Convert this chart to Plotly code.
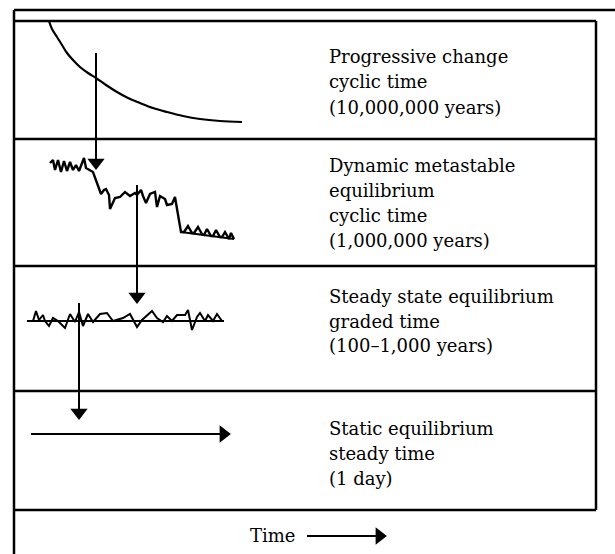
import plotly.graph_objects as go

# ---------------- data (diagram units = pixels of the 615x554 canvas) -------------
# frame
frame_top_y = 10
frame_left_x = 14
box_top_y = 21
box_right_x = 596
row_sep_y = [139, 266, 391, 510]
canvas_w, canvas_h = 615, 554

# row 1: progressive change (decay curve)
decay_x = [49, 52, 57, 62, 67, 73, 80, 88, 96, 106, 117, 128, 140, 153, 167, 183, 200, 220, 242]
decay_y = [21, 29, 37, 45, 53, 60, 67, 73, 78, 85, 92, 98, 103, 108, 112, 116, 119, 121, 122]

# row 2: dynamic metastable equilibrium
meta_x = [50, 53, 55, 58, 61, 64, 67, 70, 73, 76, 79, 82, 84, 86, 93,
          101, 104, 106, 109, 110, 115, 120, 125, 130, 135, 137, 141, 143, 146, 150,
          155, 157, 160, 165, 167, 172, 175, 176,
          181, 184, 188, 192, 194, 198, 202, 204, 207, 211, 213, 216, 220, 222, 225, 229, 231, 234]
meta_y = [163, 160, 170, 160, 172, 161, 171, 162, 170, 165, 171, 163, 158, 168, 172,
          194, 190, 189, 195, 209, 198, 197, 192, 196, 193, 195, 190, 196, 203, 194,
          192, 207, 196, 199, 205, 204, 197, 203,
          232, 232, 226, 233, 233, 227, 234, 235, 229, 236, 236, 230, 237, 237, 232, 239, 233, 239]
meta_base_x = [181, 234]
meta_base_y = [232, 239]

# row 3: steady state equilibrium
steady_x = [27, 33, 36, 39, 43, 45, 49, 53, 58, 65, 70, 75, 79, 83, 88, 93, 100, 107, 113,
            123, 130, 137, 142, 152, 157, 163, 167, 172, 177, 185, 188, 192, 197, 200, 205,
            208, 213, 217, 222, 224]
steady_y = [321, 321, 311, 320, 315, 321, 326, 318, 321, 328, 314, 322, 312, 326, 314, 322, 314, 313, 321,
            318, 314, 327, 320, 311, 318, 322, 316, 321, 315, 315, 310, 330, 317, 313, 321,
            315, 321, 314, 321, 321]
steady_base_x = [27, 224]
steady_base_y = [321, 321]

# row 4: static equilibrium
static_x = [31, 229]
static_y = [434, 434]

# transfer arrows between rows (tail -> tip)
down_arrow_x = [96, 137, 79]
down_arrow_tail_y = [53, 185, 303]
down_arrow_tip_y = [168, 302, 418]

# time arrow
time_arrow_x = [307, 385]
time_arrow_y = [536, 536]

# labels
label_x = 327
row_labels = [
    ["Progressive change", "cyclic time", "(10,000,000 years)"],
    ["Dynamic metastable", "equilibrium", "cyclic time", "(1,000,000 years)"],
    ["Steady state equilibrium", "graded time", "(100\u20131,000 years)"],
    ["Static equilibrium", "steady time", "(1 day)"],
]
row_label_y = [
    [56, 81, 107],
    [165, 190, 215, 240],
    [296, 321, 345],
    [428, 453, 478],
]
time_label = "Time"
time_label_x = 248
time_label_y = 535

# ---------------- figure ----------------
FONT = "DejaVu Serif"
BLACK = "#000000"
HEAD = 15  # arrow head marker size

fig = go.Figure()

def line(x, y, w=2, shape="linear"):
    fig.add_trace(go.Scatter(x=x, y=y, mode="lines",
                             line=dict(color=BLACK, width=w, shape=shape),
                             hoverinfo="skip", showlegend=False))

# frame lines
line([frame_left_x, canvas_w], [frame_top_y, frame_top_y], 2.5)
line([frame_left_x, frame_left_x], [frame_top_y, canvas_h], 2.5)
line([frame_left_x, box_right_x], [box_top_y, box_top_y], 2.5)
line([box_right_x, box_right_x], [box_top_y, row_sep_y[-1]], 2.5)
for ys in row_sep_y:
    line([frame_left_x, box_right_x], [ys, ys], 2.5)

# curves
line(decay_x, decay_y, 2.2, "spline")
line(meta_x, meta_y, 2.4)
line(meta_base_x, meta_base_y, 2.2)
line(steady_base_x, steady_base_y, 2)
line(steady_x, steady_y, 2)
line(static_x[:1] + [static_x[1] - HEAD / 2], static_y, 2)
fig.add_trace(go.Scatter(x=[static_x[1] - HEAD * 0.375], y=[static_y[1]], mode="markers",
                         marker=dict(symbol="triangle-right", size=HEAD, color=BLACK),
                         hoverinfo="skip", showlegend=False))

# down arrows
for ax, ty, hy in zip(down_arrow_x, down_arrow_tail_y, down_arrow_tip_y):
    line([ax, ax], [ty, hy - HEAD / 2], 2)
    fig.add_trace(go.Scatter(x=[ax], y=[hy - HEAD * 0.375], mode="markers",
                             marker=dict(symbol="triangle-down", size=HEAD, color=BLACK),
                             hoverinfo="skip", showlegend=False))

# time arrow
line([time_arrow_x[0], time_arrow_x[1] - HEAD / 2], time_arrow_y, 1.8)
fig.add_trace(go.Scatter(x=[time_arrow_x[1] - HEAD * 0.375], y=[time_arrow_y[1]], mode="markers",
                         marker=dict(symbol="triangle-right", size=HEAD, color=BLACK),
                         hoverinfo="skip", showlegend=False))

# labels
for labels, ys in zip(row_labels, row_label_y):
    for txt, yy in zip(labels, ys):
        fig.add_annotation(x=label_x, y=yy, text=txt, showarrow=False,
                           xanchor="left", yanchor="middle",
                           font=dict(family=FONT, size=18, color=BLACK))
fig.add_annotation(x=time_label_x, y=time_label_y, text=time_label, showarrow=False,
                   xanchor="left", yanchor="middle",
                   font=dict(family=FONT, size=18, color=BLACK))

fig.update_layout(
    width=canvas_w, height=canvas_h,
    margin=dict(l=0, r=0, t=0, b=0),
    paper_bgcolor="white", plot_bgcolor="white",
    xaxis=dict(range=[0, canvas_w], visible=False, fixedrange=True),
    yaxis=dict(range=[canvas_h, 0], visible=False, fixedrange=True),
)

fig.write_html("out.html",
               config={"displayModeBar": False, "staticPlot": True},
               post_script="document.body.style.margin='0';"
                           "document.body.style.overflow='hidden';")
